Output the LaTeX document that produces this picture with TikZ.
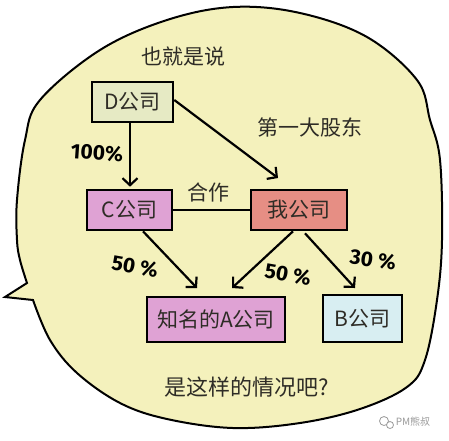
\documentclass[tikz,border=0pt]{standalone}
\usepackage{fontspec}
\newfontfamily\cjk{Noto Sans CJK SC}
\newfontfamily\hand{Fira Sans}
\usetikzlibrary{arrows.meta,calc}
\definecolor{bubble}{HTML}{F4F1BC}
\definecolor{dcol}{HTML}{E6EAC4}
\definecolor{pcol}{HTML}{DFA2D4}
\definecolor{wcol}{HTML}{E68E84}
\definecolor{bcol}{HTML}{D8EEF2}
\definecolor{txt}{HTML}{2E2C26}
\definecolor{wm}{HTML}{9A9A9A}
\begin{document}
\begin{tikzpicture}[x=1pt,y=-1pt,
  box/.style={draw=black, line width=2.6pt, minimum height=40pt, inner sep=0pt,
    font=\cjk\fontsize{21}{21}\selectfont, text=txt},
  arr/.style={line width=2.2pt, -{Straight Barb[length=7pt,width=15pt]}},
  pct/.style={font=\hand\bfseries\fontsize{21}{21}\selectfont, text=black},
  lbl/.style={font=\cjk\fontsize{21}{21}\selectfont, text=txt}]
\useasboundingbox (0,0) rectangle (449,440);
\fill[white] (0,0) rectangle (449,440);
% speech bubble
\draw[fill=bubble, line width=2pt, line join=miter]
  plot[smooth, tension=0.6] coordinates {(33,300) (50,340) (77,373) (120,403) (167,419) (233,428) (300,423) (360,409) (407,387) (425,360) (437,300) (442,240) (440,160) (430,120) (417,80) (367,37) (300,13) (233,7) (167,20) (100,50) (40,100) (25,140) (17,200) (17,240) (20,260) (27,283)}
  -- (5,297) -- cycle;
% boxes
\node[box, fill=dcol, minimum width=81pt] (D) at (132.5,102) {D公司};
\node[box, fill=pcol, minimum width=85pt] (C) at (129.5,210) {C公司};
\node[box, fill=wcol, minimum width=96pt] (W) at (299,210) {我公司};
\node[box, fill=pcol, minimum width=138pt, minimum height=45pt] (A) at (216,319.5) {知名的A公司};
\node[box, fill=bcol, minimum width=79pt, minimum height=47pt] (B) at (362.5,318.5) {B公司};
% connector ends
\coordinate (dw) at (278,178);
\coordinate (ca) at (197,288);
\coordinate (wa) at (232,288);
\coordinate (wb) at (355,288);
% connectors
\draw[arr, shorten >=2pt] ($(D.south)+(-2.5,0)$) -- ($(C.north)+(0.5,0)$);
\draw[arr] ($(D.east)+(0,-2)$) -- (dw);
\draw[line width=2.2pt] (C.east) -- (W.west);
\draw[arr] ($(C.south)+(13.5,0)$) -- (ca);
\draw[arr] ($(W.south)+(-6,0)$) -- (wa);
\draw[arr] ($(W.south)+(6,2)$) -- (wb);
% labels
\node[lbl] (t1) at (183,57) {也就是说};
\node[lbl] (t2) at (310,127) {第一大股东};
\node[lbl] (t3) at (208,192) {合作};
\node[lbl, font=\cjk\fontsize{22}{22}\selectfont] (t4) at (247,387) {是这样的情况吧?};
\node[pct, rotate=-4] (p1) at (97,153) {100\%};
\node[pct, rotate=-10] (p2) at (135,267) {50 \%};
\node[pct, rotate=-10] (p3) at (288,275) {50 \%};
\node[pct, rotate=-8] (p4) at (373,260) {30 \%};
% watermark
\draw[wm, line width=0.8pt] (384,421) circle (4.5pt);
\draw[wm, line width=0.8pt, fill=white] (390,425) circle (3.5pt);
\node[font=\cjk\fontsize{10}{10}\selectfont, text=wm] (wmk) at (413,422) {PM熊叔};
\end{tikzpicture}
\end{document}
